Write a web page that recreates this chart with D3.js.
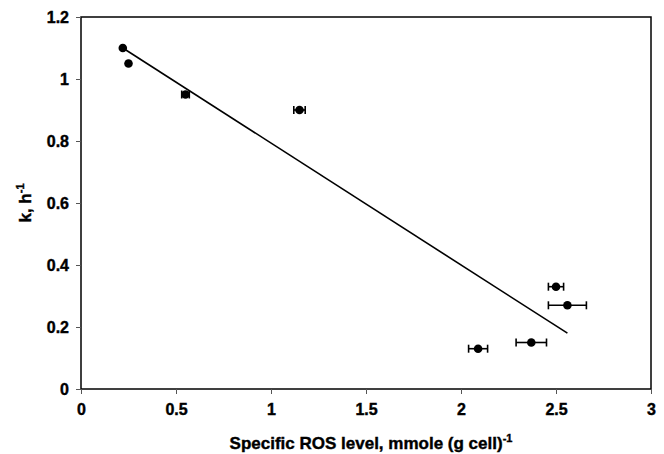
<!DOCTYPE html>
<html>
<head>
<meta charset="utf-8">
<script src="https://cdn.jsdelivr.net/npm/d3@7"></script>
<style>
  body { margin: 0; background: #fff; }
  text { font-family: "Liberation Sans", Arial, sans-serif; font-weight: bold; stroke: #000; stroke-width: 0.4px; }
</style>
</head>
<body>
<div class="container"></div>
<script>
// measured points (x = specific ROS level, y = k)
const rosLevel = [0.22, 0.25, 0.55, 1.15, 2.50, 2.56, 2.37, 2.09];
const kRate    = [1.10, 1.05, 0.95, 0.90, 0.33, 0.27, 0.15, 0.13];
const rosErr   = [0.00, 0.00, 0.02, 0.03, 0.04, 0.10, 0.08, 0.05];
// regression line ends
const fitX = [0.22, 2.56];
const fitY = [1.10, 0.18];
const xTicks = [0, 0.5, 1, 1.5, 2, 2.5, 3];
const yTicks = [0, 0.2, 0.4, 0.6, 0.8, 1, 1.2];

function draw() {
  const width = 664, height = 454;
  const margin = {left: 81, right: 13, top: 17, bottom: 65};

  const svg = d3.select(".container").append("svg")
    .attr("width", width)
    .attr("height", height);

  const x = d3.scaleLinear().domain([0, 3]).range([margin.left, width - margin.right]);
  const y = d3.scaleLinear().domain([0, 1.2]).range([height - margin.bottom, margin.top]);

  // plot frame
  svg.append("rect")
    .attr("x", x(0)).attr("y", y(1.2))
    .attr("width", x(3) - x(0)).attr("height", y(0) - y(1.2))
    .attr("fill", "none").attr("stroke", "#000").attr("stroke-width", 1.5);

  const xAxis = svg.append("g")
    .attr("transform", `translate(0,${y(0)})`)
    .call(d3.axisBottom(x).tickValues(xTicks).tickSize(5).tickPadding(10).tickFormat(d3.format("")));
  const yAxis = svg.append("g")
    .attr("transform", `translate(${x(0)},0)`)
    .call(d3.axisLeft(y).tickValues(yTicks).tickSize(5).tickPadding(7).tickFormat(d3.format("")));

  [xAxis, yAxis].forEach(a => {
    a.select(".domain").remove();
    a.selectAll(".tick line").attr("stroke", "#555");
    a.selectAll(".tick text").attr("font-size", 16).attr("fill", "#000")
      .style("font-family", '"Liberation Sans", Arial, sans-serif').style("font-weight", "bold");
  });

  // fit line
  svg.append("line")
    .attr("x1", x(fitX[0])).attr("y1", y(fitY[0]))
    .attr("x2", x(fitX[1])).attr("y2", y(fitY[1]))
    .attr("stroke", "#000").attr("stroke-width", 1.6);

  const pts = rosLevel.map((v, i) => ({x: v, y: kRate[i], e: rosErr[i]}));
  const bars = svg.append("g");
  pts.filter(d => d.e > 0).forEach(d => {
    bars.append("line")
      .attr("x1", x(d.x - d.e)).attr("x2", x(d.x + d.e))
      .attr("y1", y(d.y)).attr("y2", y(d.y))
      .attr("stroke", "#000").attr("stroke-width", 1.6);
    [d.x - d.e, d.x + d.e].forEach(c => {
      bars.append("line")
        .attr("x1", x(c)).attr("x2", x(c))
        .attr("y1", y(d.y) - 4).attr("y2", y(d.y) + 4)
        .attr("stroke", "#000").attr("stroke-width", 1.6);
    });
  });

  svg.append("g").selectAll("circle")
    .data(pts)
    .enter()
    .append("circle")
    .attr("cx", d => x(d.x))
    .attr("cy", d => y(d.y))
    .attr("r", 4.3)
    .attr("fill", "#000");

  // axis titles
  const xt = svg.append("text")
    .attr("x", (x(0) + x(3)) / 2 + 5)
    .attr("y", 449)
    .attr("text-anchor", "middle")
    .attr("font-size", 17);
  xt.append("tspan").text("Specific ROS level, mmole (g cell)");
  xt.append("tspan").attr("dy", -7).attr("font-size", 11).text("-1");

  const yt = svg.append("text")
    .attr("transform", `translate(31,${(y(0) + y(1.2)) / 2}) rotate(-90)`)
    .attr("text-anchor", "middle")
    .attr("font-size", 17);
  yt.append("tspan").text("k, h");
  yt.append("tspan").attr("dy", -7).attr("font-size", 11).text("-1");
}

draw();
</script>
</body>
</html>
